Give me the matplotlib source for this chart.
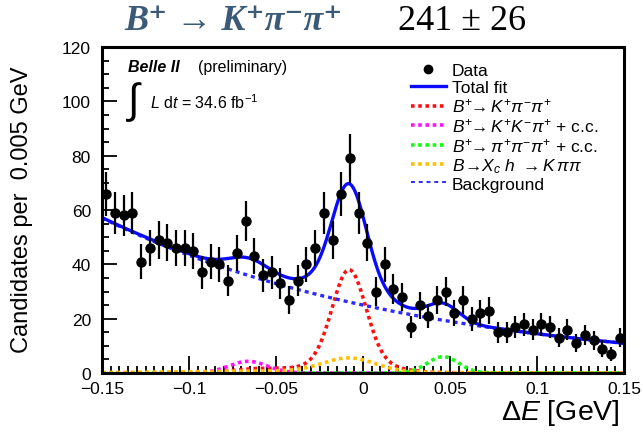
import numpy as np
import matplotlib
matplotlib.use("Agg")
import matplotlib.pyplot as plt
from matplotlib.lines import Line2D
from matplotlib.ticker import MultipleLocator

plt.rcParams['font.family'] = ['Liberation Sans', 'DejaVu Sans']
plt.rcParams['mathtext.fontset'] = 'custom'
plt.rcParams['mathtext.rm'] = 'Liberation Sans'
plt.rcParams['mathtext.it'] = 'Liberation Sans:italic'
plt.rcParams['mathtext.bf'] = 'Liberation Sans:bold'

# data: candidates per 0.005 GeV bin, 60 bins from -0.15 to 0.15
bin_edges_lo = -0.15
bin_width = 0.005
counts = [66, 59, 58, 59, 41, 46, 49, 48, 46, 46,
          45, 37, 41, 40, 34, 44, 56, 43, 36, 37,
          33, 27, 34, 40, 46, 59, 49, 66, 79, 59,
          48, 30, 40, 31, 28, 17, 25, 21, 27, 30,
          22, 27, 20, 22, 23, 15, 15, 17, 18, 16,
          18, 17, 13, 16, 11, 14, 12, 9, 7, 13]

# fit component parameters (amplitude, mean, sigma)
bkg_norm, bkg_slope = 25.0, 5.5
sig_core = (33.0, -0.008, 0.0095)
sig_wide = (5.0, -0.008, 0.020)
sig_low = (1.5, -0.060, 0.015)
kkpi = (4.3, -0.066, 0.011)
pipipi = (6.0, 0.046, 0.009)
xch = (5.0, -0.008, 0.015)
xch_wide = (0.7, -0.050, 0.060)


def gaus(x, p):
    a, m, s = p
    return a * np.exp(-0.5 * ((x - m) / s) ** 2)


counts = np.array(counts, dtype=float)
centers = bin_edges_lo + bin_width * (np.arange(len(counts)) + 0.5)
errs = np.sqrt(counts)

xf = np.linspace(-0.15, 0.15, 800)
bkg = bkg_norm * np.exp(-bkg_slope * xf)
sig = gaus(xf, sig_core) + gaus(xf, sig_wide) + gaus(xf, sig_low)
kk = gaus(xf, kkpi)
ppp = gaus(xf, pipipi)
xc = gaus(xf, xch) + gaus(xf, xch_wide)
total = bkg + sig + kk + ppp + xc

fig = plt.figure(figsize=(6.43, 4.35), dpi=100)
ax = fig.add_axes([102/643, 61/435, 522/643, 326/435])

c_red, c_mag, c_grn, c_org, c_bkg = '#ff1010', '#ff10ff', '#10ff10', '#ffc000', '#2a2aff'
dot = (0, (1, 1))
ax.plot(xf, sig, color=c_red, lw=2.6, ls=dot)
ax.plot(xf, kk, color=c_mag, lw=2.6, ls=dot)
ax.plot(xf, ppp, color=c_grn, lw=2.6, ls=dot)
ax.plot(xf, xc, color=c_org, lw=2.6, ls=dot)
ax.plot(xf, bkg, color=c_bkg, lw=2.4, ls=(0, (1.2, 1.2)))
ax.plot(xf, total, color='#0a0aff', lw=2.4)
ax.errorbar(centers, counts, yerr=errs, fmt='o', color='black', ms=6.5,
            elinewidth=1.6, capsize=0, zorder=5)

ax.set_xlim(-0.15, 0.15)
ax.set_ylim(0, 120)
ax.xaxis.set_major_locator(MultipleLocator(0.05))
ax.xaxis.set_minor_locator(MultipleLocator(0.005))
ax.yaxis.set_major_locator(MultipleLocator(20))
ax.yaxis.set_minor_locator(MultipleLocator(5))
ax.set_xticks([-0.15, -0.1, -0.05, 0, 0.05, 0.1, 0.15])
ax.set_xticklabels(['\u22120.15', '\u22120.1', '\u22120.05', '0', '0.05', '0.1', '0.15'])
ax.tick_params(which='both', direction='in', top=False, right=False,
               labelsize=12.5, width=1.3, colors='black')
ax.tick_params(axis='x', which='major', length=12, pad=6)
ax.tick_params(axis='x', which='minor', length=5)
ax.tick_params(axis='y', which='major', length=11, pad=8)
ax.tick_params(axis='y', which='minor', length=5)
for sp in ax.spines.values():
    sp.set_linewidth(2.2)

fig.text(22/643, 1 - 210/435, 'Candidates per  0.005 GeV', rotation=90,
         fontsize=17, ha='center', va='center')
fig.text(620/643, 1 - 413/435, r'$\Delta E$ [GeV]', fontsize=20.5,
         ha='right', va='center')

# header
fig.text(124/643, 1 - 22/435, 'B\u207a \u2192 K\u207a\u03c0\u207b\u03c0\u207a',
         family=['Liberation Serif', 'DejaVu Serif'], fontsize=26,
         weight='bold', style='italic', color='#3b5a78', ha='left', va='center')
fig.text(398/643, 1 - 22/435, '241 \u00b1 26',
         family=['Liberation Serif', 'DejaVu Serif'], fontsize=26,
         color='black', ha='left', va='center')

# belle text
fig.text(128/643, 1 - 68/435, 'Belle II', fontsize=11.5, weight='bold',
         style='italic', ha='left', va='center')
fig.text(198/643, 1 - 68/435, '(preliminary)', fontsize=11.5,
         ha='left', va='center')
fig.text(126/643, 1 - 102/435, r'$\int$', fontsize=30, ha='left', va='center')
fig.text(150/643, 1 - 103/435, r'$L$ d$t$ = 34.6 fb$^{-1}$', fontsize=11.5,
         ha='left', va='center')

handles = [
    Line2D([], [], ls='none', marker='o', color='black', ms=6),
    Line2D([], [], color='#0a0aff', lw=2.4),
    Line2D([], [], color=c_red, lw=2.6, ls=dot),
    Line2D([], [], color=c_mag, lw=2.6, ls=dot),
    Line2D([], [], color=c_grn, lw=2.6, ls=dot),
    Line2D([], [], color=c_org, lw=2.6, ls=dot),
    Line2D([], [], color=c_bkg, lw=1.4, ls=(0, (2, 2))),
]
labels = [
    'Data',
    'Total fit',
    r'$B^{+}\!\!\rightarrow K^{+}\pi^{-}\pi^{+}$',
    r'$B^{+}\!\!\rightarrow K^{+}K^{-}\pi^{+}$ + c.c.',
    r'$B^{+}\!\!\rightarrow \pi^{+}\pi^{-}\pi^{+}$ + c.c.',
    r'$B\!\rightarrow\! X_{c}\ h\ \rightarrow K\,\pi\pi$',
    'Background',
]
fig.legend(handles, labels, loc='upper left',
           bbox_to_anchor=(411/643, 1 - 64/435), bbox_transform=fig.transFigure,
           frameon=False, fontsize=12.5, borderpad=0, borderaxespad=0,
           handlelength=2.0, handletextpad=0.35, labelspacing=0.1)

fig.savefig('out.png', dpi=100)
